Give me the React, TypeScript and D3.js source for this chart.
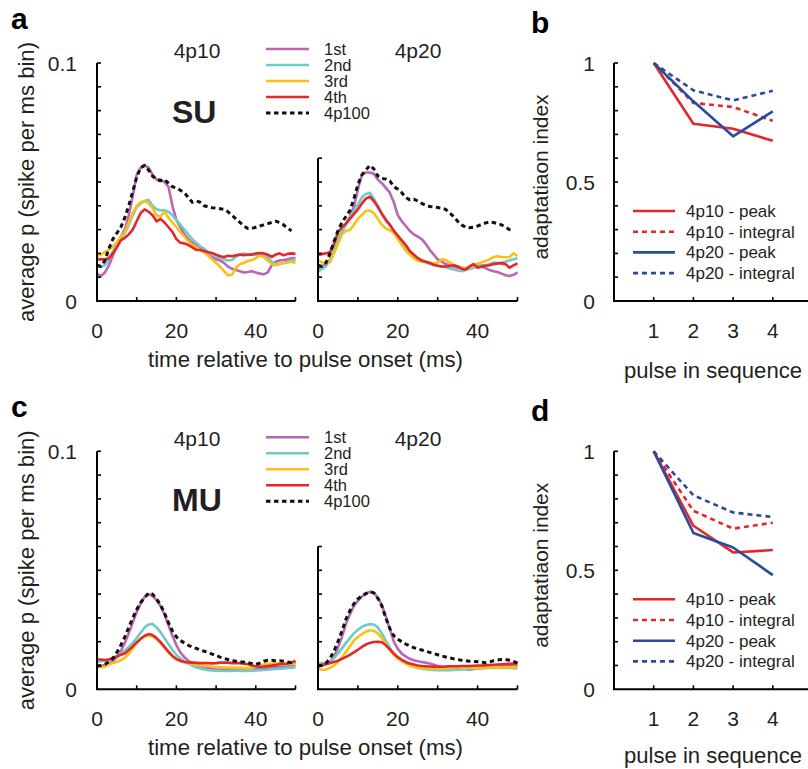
import React from 'react';
import * as d3 from 'd3';

// ---------- data (PSTH values in units of 0.01 spike per 1-ms bin) ----------
const UNIT = 0.01;
const timeMs = d3.range(0, 51);

const su4p10_1st = [1.15,1.05,1.2,1.5,1.9,2.3,2.7,3.0,3.6,4.4,5.3,5.6,5.7,5.6,5.3,5.1,5.1,5.0,4.8,4.0,3.4,3.1,2.8,2.6,2.45,2.35,2.25,2.15,2.0,1.85,1.75,1.7,1.6,1.45,1.35,1.3,1.25,1.2,1.22,1.25,1.2,1.15,1.12,1.2,1.5,1.65,1.7,1.72,1.75,1.8,1.8];
const su4p10_2nd = [1.5,1.45,1.5,1.75,2.1,2.35,2.6,2.85,3.2,3.6,3.95,4.1,4.2,4.25,4.0,3.85,3.8,3.82,3.75,3.6,3.4,3.2,3.0,2.8,2.6,2.45,2.3,2.2,2.05,1.95,1.88,1.8,1.75,1.7,1.72,1.85,1.95,2.0,1.92,1.95,1.95,1.95,1.9,1.85,1.65,1.55,1.55,1.6,1.65,1.7,1.75];
const su4p10_3rd = [1.9,1.95,2.05,2.15,2.3,2.45,2.7,2.9,3.3,3.7,4.0,4.15,4.2,4.1,3.9,3.6,3.55,3.75,3.5,3.3,3.1,2.9,2.7,2.5,2.35,2.25,2.15,2.05,1.9,1.75,1.6,1.45,1.25,1.08,1.1,1.4,1.55,1.6,1.68,1.72,1.8,1.9,1.85,1.7,1.55,1.5,1.55,1.6,1.62,1.65,1.6];
const su4p10_4th = [1.75,1.75,1.75,1.8,2.0,2.25,2.55,2.65,2.8,3.0,3.35,3.7,3.85,3.75,3.6,3.35,3.45,3.3,3.1,2.9,2.6,2.45,2.42,2.35,2.25,2.15,2.14,2.1,2.05,2.02,1.95,1.88,1.85,1.9,1.88,1.92,1.95,1.92,1.95,1.95,2.0,2.02,2.0,1.95,1.85,1.95,2.0,1.92,1.98,2.0,1.98];
const su4p10_4p100 = [1.5,1.45,1.7,2.2,2.6,2.85,3.1,3.5,4.0,4.6,5.2,5.6,5.7,5.5,5.25,5.1,5.05,5.1,4.95,4.8,4.75,4.65,4.55,4.35,4.15,4.2,4.15,4.0,3.95,3.92,3.9,3.88,3.85,3.75,3.6,3.45,3.3,3.15,3.05,3.05,3.1,3.15,3.2,3.25,3.3,3.35,3.3,3.2,3.05,2.95];

const su4p20_1st = [1.35,1.45,1.55,1.65,2.1,2.5,2.9,3.25,3.55,3.95,4.7,5.3,5.4,5.4,5.35,5.1,4.95,4.75,4.55,4.15,3.6,3.35,3.15,2.95,2.8,2.7,2.6,2.4,2.15,1.95,1.75,1.65,1.55,1.5,1.45,1.4,1.38,1.38,1.4,1.48,1.5,1.45,1.38,1.3,1.25,1.22,1.15,1.08,1.05,1.1,1.2];
const su4p20_2nd = [1.23,1.35,1.45,1.75,2.2,2.6,2.95,3.2,3.5,3.8,4.05,4.35,4.5,4.55,4.3,4.0,3.7,3.45,3.2,2.95,2.7,2.45,2.25,2.05,1.9,1.8,1.72,1.62,1.55,1.5,1.48,1.45,1.42,1.38,1.32,1.28,1.25,1.3,1.35,1.4,1.45,1.5,1.5,1.55,1.62,1.6,1.62,1.65,1.7,1.75,1.8];
const su4p20_3rd = [1.72,1.62,1.6,1.65,2.0,2.4,2.8,2.95,2.98,3.2,3.45,3.62,3.78,3.8,3.7,3.45,3.2,3.05,2.98,2.85,2.6,2.35,2.12,1.95,1.8,1.7,1.65,1.63,1.62,1.58,1.62,1.75,1.72,1.62,1.52,1.45,1.4,1.38,1.42,1.5,1.58,1.62,1.68,1.75,1.85,1.88,1.85,1.84,1.85,2.0,1.9];
const su4p20_4th = [1.93,1.97,2.0,2.05,2.4,2.9,3.1,3.25,3.45,3.65,3.85,4.1,4.3,4.38,4.2,3.95,3.65,3.4,3.2,2.95,2.75,2.55,2.35,2.1,1.95,1.8,1.7,1.65,1.6,1.52,1.48,1.45,1.45,1.47,1.5,1.45,1.35,1.32,1.45,1.55,1.4,1.45,1.48,1.5,1.55,1.58,1.58,1.55,1.4,1.5,1.58];
const su4p20_4p100 = [1.5,1.45,1.6,2.0,2.5,2.95,3.3,3.55,3.8,4.3,4.9,5.3,5.5,5.7,5.55,5.25,5.15,5.12,5.05,4.8,4.7,4.55,4.35,4.25,4.28,4.2,4.1,4.02,3.97,3.95,3.93,3.9,3.85,3.7,3.55,3.35,3.2,3.1,3.08,3.1,3.15,3.22,3.28,3.32,3.3,3.25,3.2,3.1,3.0,2.95];

const mu4p10_1st = [0.95,0.98,1.02,1.08,1.18,1.35,1.6,1.95,2.35,2.8,3.25,3.6,3.88,4.0,3.92,3.75,3.5,3.15,2.7,2.25,1.85,1.55,1.35,1.2,1.1,1.02,0.97,0.93,0.9,0.88,0.87,0.86,0.85,0.85,0.85,0.85,0.86,0.87,0.88,0.88,0.87,0.87,0.88,0.9,0.92,0.93,0.94,0.95,0.96,0.97,0.98];
const mu4p10_2nd = [1.15,1.18,1.2,1.25,1.32,1.4,1.5,1.62,1.78,1.95,2.15,2.38,2.6,2.72,2.75,2.6,2.4,2.15,1.9,1.65,1.45,1.3,1.18,1.08,1.0,0.92,0.87,0.83,0.8,0.79,0.78,0.78,0.77,0.77,0.77,0.78,0.78,0.77,0.77,0.78,0.79,0.8,0.81,0.82,0.84,0.85,0.87,0.88,0.9,0.91,0.92];
const mu4p10_3rd = [0.98,0.93,0.95,1.05,1.1,1.15,1.22,1.32,1.5,1.72,1.95,2.12,2.22,2.25,2.22,2.12,1.95,1.75,1.55,1.38,1.25,1.18,1.14,1.1,1.06,1.03,1.0,0.98,0.97,0.95,0.93,0.92,0.92,0.91,0.91,0.9,0.9,0.89,0.88,0.9,0.95,1.0,1.04,1.07,1.08,1.09,1.08,1.07,1.06,1.06,1.06];
const mu4p10_4th = [1.25,1.25,1.23,1.25,1.3,1.38,1.45,1.5,1.65,1.8,1.97,2.12,2.25,2.32,2.28,2.15,1.98,1.78,1.58,1.4,1.28,1.2,1.15,1.13,1.12,1.11,1.1,1.1,1.1,1.09,1.1,1.12,1.12,1.12,1.1,1.1,1.1,1.08,1.05,1.0,0.97,0.95,0.96,0.98,1.0,1.02,1.05,1.06,1.08,1.12,1.2];
const mu4p10_4p100 = [0.98,1.0,1.05,1.15,1.3,1.55,1.85,2.2,2.6,3.0,3.35,3.65,3.85,4.05,4.0,3.8,3.55,3.2,2.8,2.45,2.2,2.05,1.95,1.85,1.78,1.72,1.65,1.6,1.55,1.48,1.42,1.35,1.3,1.25,1.2,1.18,1.15,1.15,1.12,1.08,1.05,1.1,1.18,1.22,1.22,1.2,1.2,1.18,1.15,1.12,1.12];

const mu4p20_1st = [1.0,1.0,1.05,1.15,1.35,1.75,2.2,2.75,3.15,3.5,3.72,3.9,4.02,4.1,4.05,3.85,3.55,3.05,2.55,2.0,1.7,1.5,1.38,1.28,1.22,1.18,1.15,1.12,1.08,1.03,0.98,0.95,0.93,0.92,0.91,0.9,0.88,0.85,0.82,0.85,0.92,0.95,0.96,0.97,0.97,0.97,0.98,0.98,0.98,0.98,0.98];
const mu4p20_2nd = [1.08,1.1,1.1,1.15,1.3,1.5,1.72,1.95,2.15,2.35,2.5,2.62,2.7,2.73,2.72,2.6,2.35,2.05,1.75,1.5,1.32,1.2,1.1,1.02,0.95,0.9,0.86,0.84,0.82,0.81,0.8,0.8,0.8,0.8,0.81,0.82,0.83,0.84,0.85,0.86,0.87,0.88,0.89,0.9,0.9,0.9,0.9,0.9,0.9,0.89,0.88];
const mu4p20_3rd = [0.88,0.82,0.82,0.9,1.0,1.15,1.35,1.58,1.8,2.05,2.2,2.32,2.42,2.48,2.45,2.35,2.15,1.9,1.65,1.45,1.3,1.18,1.08,1.0,0.95,0.92,0.9,0.89,0.88,0.88,0.88,0.88,0.89,0.9,0.91,0.92,0.92,0.92,0.92,0.91,0.9,0.9,0.91,0.92,0.92,0.92,0.92,0.92,0.92,0.92,0.92];
const mu4p20_4th = [1.02,1.03,1.06,1.1,1.15,1.2,1.28,1.36,1.45,1.55,1.66,1.78,1.88,1.95,1.99,2.0,1.98,1.85,1.68,1.5,1.35,1.24,1.15,1.08,1.04,1.0,0.98,0.97,0.96,0.95,0.95,0.95,0.96,0.97,0.97,0.97,0.98,0.98,0.98,0.99,1.0,1.0,1.01,1.02,1.03,1.04,1.05,1.06,1.07,1.08,1.09];
const mu4p20_4p100 = [0.98,1.0,1.1,1.3,1.6,2.0,2.45,2.95,3.3,3.6,3.8,3.93,4.02,4.1,4.05,3.82,3.5,3.0,2.55,2.25,2.1,2.0,1.9,1.82,1.75,1.7,1.65,1.6,1.55,1.5,1.45,1.4,1.36,1.32,1.28,1.25,1.22,1.2,1.18,1.17,1.16,1.14,1.12,1.15,1.2,1.23,1.25,1.25,1.22,1.17,1.1];

const pulseLabels = ['1st', '2nd', '3rd', '4th', '4p100'];

// adaptation index
const pulses = [1, 2, 3, 4];
const su4p10Peak = [1, 0.745, 0.724, 0.673];
const su4p10Integral = [1, 0.832, 0.815, 0.757];
const su4p20Peak = [1, 0.839, 0.692, 0.797];
const su4p20Integral = [1, 0.885, 0.843, 0.883];
const mu4p10Peak = [1, 0.687, 0.575, 0.585];
const mu4p10Integral = [1, 0.75, 0.675, 0.7];
const mu4p20Peak = [1, 0.657, 0.596, 0.48];
const mu4p20Integral = [1, 0.815, 0.743, 0.724];
const adaptLabels = ['4p10 - peak', '4p10 - integral', '4p20 - peak', '4p20 - integral'];

const psthXTickLabels = [0, 20, 40];
const psthYTickLabels = [0, 0.1];
const adaptYTickLabels = [0, 0.5, 1];

// ---------- styles ----------
const FONT = '"Liberation Sans", Arial, Helvetica, sans-serif';
const TXT = '#231f20';
const C1 = '#b966b4';
const C2 = '#6fcaca';
const C3 = '#f8c114';
const C4 = '#e5262b';
const CB = '#111111';
const RED = '#e5262b';
const BLUE = '#2d4b9e';
const COLORS = [C1, C2, C3, C4, CB];

type Row = { base: number; title: string; letterL: string; letterR: string; seqDy: number; series10: number[][]; series20: number[][]; adapt: number[][] };

const rows: Row[] = [
  { base: 301, title: 'SU', letterL: 'a', letterR: 'b', seqDy: 77,
    series10: [su4p10_1st, su4p10_2nd, su4p10_3rd, su4p10_4th, su4p10_4p100],
    series20: [su4p20_1st, su4p20_2nd, su4p20_3rd, su4p20_4th, su4p20_4p100],
    adapt: [su4p10Peak, su4p10Integral, su4p20Peak, su4p20Integral] },
  { base: 689.3, title: 'MU', letterL: 'c', letterR: 'd', seqDy: 73.5,
    series10: [mu4p10_1st, mu4p10_2nd, mu4p10_3rd, mu4p10_4th, mu4p10_4p100],
    series20: [mu4p20_1st, mu4p20_2nd, mu4p20_3rd, mu4p20_4th, mu4p20_4p100],
    adapt: [mu4p10Peak, mu4p10Integral, mu4p20Peak, mu4p20Integral] },
];

function Psth({ x0, x1, base, yMax, series, yLabels }: any) {
  const x = d3.scaleLinear().domain([0, 50]).range([x0, x1]);
  const y = d3.scaleLinear().domain([0, 0.1]).range([base, base - 238]);
  const line = d3.line<number>().x((_, i) => x(timeMs[i])).y((d) => y(d * UNIT));
  const yTicks = y.ticks(10).filter((v) => v > 0 && v <= yMax + 1e-9);
  const xTicks = x.ticks(5).filter((v) => v > 0);
  return (
    <g>
      {series.map((s: number[], i: number) => (
        <path key={i} d={line(s) || ''} fill="none" stroke={COLORS[i]}
          strokeWidth={i === 4 ? 3 : 2.6} strokeDasharray={i === 4 ? '4.5 3.5' : undefined}
          strokeLinejoin="round" />
      ))}
      <path d={`M${x0},${y(yMax)}V${base}H${x1}`} fill="none" stroke="#000" strokeWidth={2} />
      {yTicks.map((v) => <line key={'y' + v} x1={x0} x2={x0 + 4} y1={y(v)} y2={y(v)} stroke="#000" strokeWidth={1.6} />)}
      {xTicks.map((v) => <line key={'x' + v} x1={x(v)} x2={x(v)} y1={base} y2={base - 4} stroke="#000" strokeWidth={1.6} />)}
      {psthXTickLabels.map((v) => (
        <text key={'xl' + v} x={x(v)} y={base + 37} textAnchor="middle" fontSize={21} fill={TXT}>{v}</text>
      ))}
      {yLabels && psthYTickLabels.map((v) => (
        <text key={'yl' + v} x={x0 - 20} y={y(v) + 7.5} textAnchor="end" fontSize={21} fill={TXT}>{String(v)}</text>
      ))}
    </g>
  );
}

function Adapt({ base, data, seqDy }: any) {
  const x = d3.scaleLinear().domain([0, 5]).range([614, 812.5]);
  const y = d3.scaleLinear().domain([0, 1]).range([base, base - 238]);
  const line = d3.line<number>().x((_, i) => x(pulses[i])).y((d) => y(d));
  const styles = [
    { c: RED, dash: undefined },
    { c: RED, dash: '5 4' },
    { c: BLUE, dash: undefined },
    { c: BLUE, dash: '5 4' },
  ];
  const order = [1, 3, 0, 2];
  return (
    <g>
      {order.map((i) => (
        <path key={i} d={line(data[i]) || ''} fill="none" stroke={styles[i].c} strokeWidth={2.6}
          strokeDasharray={styles[i].dash} strokeLinejoin="round" />
      ))}
      <path d={`M${x(0)},${y(1)}V${base}H${x(5)}`} fill="none" stroke="#000" strokeWidth={2} />
      {y.ticks(10).filter((v) => v > 0).map((v) => (
        <line key={'y' + v} x1={x(0)} x2={x(0) + 4} y1={y(v)} y2={y(v)} stroke="#000" strokeWidth={1.6} />
      ))}
      {pulses.map((p) => (
        <line key={'x' + p} x1={x(p)} x2={x(p)} y1={base} y2={base - 4} stroke="#000" strokeWidth={1.6} />
      ))}
      {pulses.map((p) => (
        <text key={'xl' + p} x={x(p)} y={base + 37} textAnchor="middle" fontSize={21} fill={TXT}>{p}</text>
      ))}
      {adaptYTickLabels.map((v) => (
        <text key={'yl' + v} x={x(0) - 19} y={y(v) + 7.5} textAnchor="end" fontSize={21} fill={TXT}>{String(v)}</text>
      ))}
      <text x={713} y={base + seqDy} textAnchor="middle" fontSize={22} fill={TXT}
        textLength={178} lengthAdjust="spacingAndGlyphs">pulse in sequence</text>
      <text transform={`translate(548,${base - 124}) rotate(-90)`} textAnchor="middle" fontSize={21} fill={TXT}
        textLength={165} lengthAdjust="spacingAndGlyphs">adaptatiaon index</text>
      {adaptLabels.map((lab, i) => {
        const ly = base - 90 + i * 20.7;
        return (
          <g key={lab}>
            <line x1={633} x2={675} y1={ly} y2={ly} stroke={styles[i].c} strokeWidth={2.6} strokeDasharray={styles[i].dash} />
            <text x={686} y={ly + 6} fontSize={17} fill={TXT}>{lab}</text>
          </g>
        );
      })}
    </g>
  );
}

export default function App() {
  return (
    <svg width={808} height={769} viewBox="0 0 808 769"
      style={{ position: 'absolute', left: 0, top: 0, background: '#fff', fontFamily: FONT }}>
      <rect width={808} height={769} fill="#fff" />
      {rows.map((r) => {
        const B = r.base;
        return (
          <g key={r.title}>
            <text x={11} y={B - 272} fontSize={30} fontWeight="bold" fill="#000">{r.letterL}</text>
            <text x={531} y={B - 268} fontSize={30} fontWeight="bold" fill="#000">{r.letterR}</text>
            <text x={197} y={B - 243} textAnchor="middle" fontSize={21} fill={TXT}>4p10</text>
            <text x={418} y={B - 243} textAnchor="middle" fontSize={21} fill={TXT}>4p20</text>
            <text x={172} y={B - 178} fontSize={32} fontWeight="bold" fill={TXT}>{r.title}</text>
            {pulseLabels.map((lab, i) => {
              const ly = B - 252 + i * 16;
              return (
                <g key={lab}>
                  <line x1={266} x2={309} y1={ly} y2={ly} stroke={COLORS[i]} strokeWidth={i === 4 ? 3 : 2.6}
                    strokeDasharray={i === 4 ? '4.5 3.5' : undefined} />
                  <text x={324} y={ly + 6} fontSize={16.5} fill={TXT}>{lab}</text>
                </g>
              );
            })}
            <Psth x0={97} x1={295.5} base={B} yMax={0.1} series={r.series10} yLabels />
            <Psth x0={318} x1={517.5} base={B} yMax={0.06} series={r.series20} yLabels={false} />
            <text transform={`translate(34,${B - 119}) rotate(-90)`} textAnchor="middle" fontSize={22} fill={TXT}
              textLength={280} lengthAdjust="spacingAndGlyphs">
              average p (spike per ms bin)
            </text>
            <text x={305.5} y={B + 66} textAnchor="middle" fontSize={22} fill={TXT}
              textLength={315} lengthAdjust="spacingAndGlyphs">time relative to pulse onset (ms)</text>
            <Adapt base={B} data={r.adapt} seqDy={r.seqDy} />
          </g>
        );
      })}
    </svg>
  );
}
